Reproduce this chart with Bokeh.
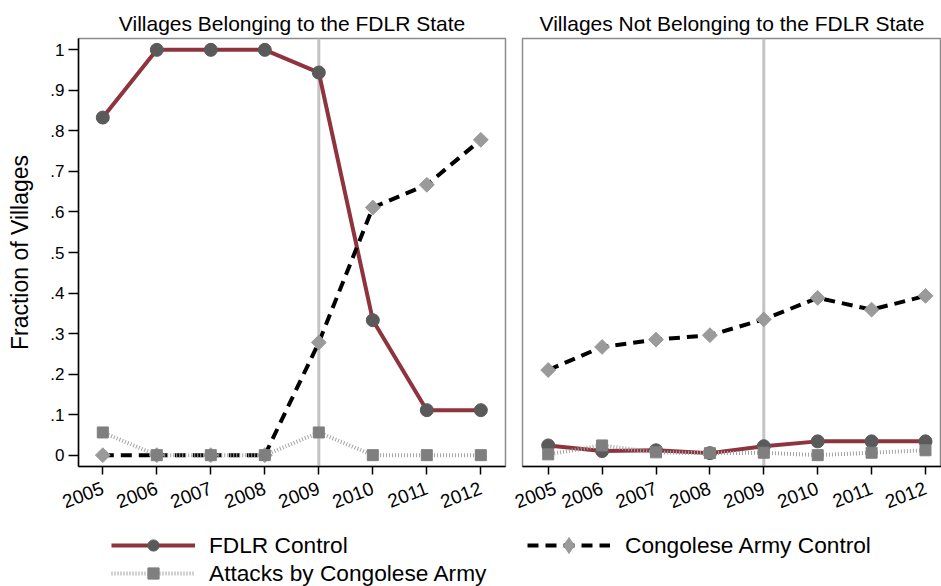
import math
from bokeh.plotting import figure
from bokeh.layouts import column, row
from bokeh.models import Range1d, FixedTicker, Span, Legend, LegendItem
from bokeh.embed import file_html
from bokeh.resources import INLINE

# ---------------- data ----------------
years = [2005, 2006, 2007, 2008, 2009, 2010, 2011, 2012]
year_labels = ["2005", "2006", "2007", "2008", "2009", "2010", "2011", "2012"]
event_year = 2009

fdlr_in = [0.833, 1.0, 1.0, 1.0, 0.944, 0.333, 0.111, 0.111]
army_in = [0.0, 0.0, 0.0, 0.0, 0.278, 0.611, 0.667, 0.778]
attacks_in = [0.056, 0.0, 0.0, 0.0, 0.056, 0.0, 0.0, 0.0]

fdlr_out = [0.024, 0.010, 0.012, 0.005, 0.022, 0.034, 0.034, 0.034]
army_out = [0.210, 0.267, 0.285, 0.296, 0.335, 0.388, 0.359, 0.393]
attacks_out = [0.002, 0.024, 0.007, 0.005, 0.006, 0.0, 0.006, 0.012]

y_ticks = [0.0, 0.1, 0.2, 0.3, 0.4, 0.5, 0.6, 0.7, 0.8, 0.9, 1.0]
y_tick_labels = ["0", ".1", ".2", ".3", ".4", ".5", ".6", ".7", ".8", ".9", "1"]

series_names = ["FDLR Control", "Congolese Army Control", "Attacks by Congolese Army"]
panel_titles = ["Villages Belonging to the FDLR State",
                "Villages Not Belonging to the FDLR State"]
y_label = "Fraction of Villages"

# ---------------- style ----------------
FONT = "Liberation Sans"
RED = "#8f343e"
CIRCLE = "#5a5a5a"
DIAMOND = "#9a9a9a"
SQUARE = "#7f7f7f"
DOT = "#a3a3a3"
ARMY_DASH = "11 7"
DOT_DASH = "1 2"

TOP_H = 522
LEG_H = 64


def add_series(p, fdlr, army, attacks, legend_mode=False):
    rs = []
    rs.append(p.line(years, fdlr, line_color=RED, line_width=4, line_join="round"))
    rs.append(p.scatter(years, fdlr, marker="circle", size=13, fill_color=CIRCLE, line_color=CIRCLE))
    rs.append(p.line(years, army, line_color="black", line_width=4, line_dash=ARMY_DASH))
    if legend_mode:
        rs.append(p.scatter(years, army, marker="diamond", size=16,
                            fill_color=DIAMOND, line_color=DIAMOND))
    else:
        rs.append(p.scatter(years, army, marker="square", angle=math.pi / 4, size=10.5,
                            fill_color=DIAMOND, line_color=DIAMOND))
    rs.append(p.line(years, attacks, line_color=DOT, line_width=4, line_dash=DOT_DASH))
    rs.append(p.scatter(years, attacks, marker="square", size=11, fill_color=SQUARE, line_color=SQUARE))
    return rs


def make_panel(title, fdlr, army, attacks, xr, width, bl, br, show_y):
    p = figure(width=width, height=TOP_H, x_range=Range1d(*xr), y_range=Range1d(-0.028, 1.028),
               output_backend="svg", toolbar_location=None,
               min_border_left=bl, min_border_right=br, min_border_top=38, min_border_bottom=56,
               title=title, background_fill_color="white", border_fill_color="white")
    p.title.text_font = FONT
    p.title.text_font_size = "21px"
    p.title.text_font_style = "normal"
    p.title.text_color = "black"
    p.title.align = "center"
    p.title.standoff = 7
    p.grid.visible = False
    p.outline_line_color = "#8c8c8c"
    p.outline_line_width = 1.5

    p.add_layout(Span(location=event_year, dimension="height", line_color="#c4c4c4",
                      line_width=3, level="underlay"))
    add_series(p, fdlr, army, attacks)

    xa = p.xaxis[0]
    xa.ticker = FixedTicker(ticks=years)
    xa.major_label_overrides = dict(zip(years, year_labels))
    xa.major_label_orientation = 0.36
    xa.major_label_text_font = FONT
    xa.major_label_text_font_size = "19px"
    xa.major_label_text_color = "black"
    xa.major_label_standoff = 13
    xa.major_tick_out = 8
    xa.major_tick_in = 0
    xa.minor_tick_out = 0
    xa.minor_tick_in = 0
    xa.axis_line_color = "black"
    xa.axis_line_width = 1.5
    xa.major_tick_line_width = 1.5

    ya = p.yaxis[0]
    if show_y:
        ya.ticker = FixedTicker(ticks=y_ticks)
        ya.major_label_overrides = dict(zip(y_ticks, y_tick_labels))
        ya.major_label_text_font = FONT
        ya.major_label_text_font_size = "17px"
        ya.major_label_text_color = "black"
        ya.major_label_standoff = 4
        ya.major_tick_out = 10
        ya.major_tick_in = 0
        ya.minor_tick_out = 0
        ya.minor_tick_in = 0
        ya.axis_line_color = "black"
        ya.axis_line_width = 1.5
        ya.major_tick_line_width = 1.5
        ya.axis_label = y_label
        ya.axis_label_text_font = FONT
        ya.axis_label_text_font_size = "23px"
        ya.axis_label_text_font_style = "normal"
        ya.axis_label_text_color = "black"
        ya.axis_label_standoff = 14
    else:
        ya.visible = False
    return p


p1 = make_panel(panel_titles[0], fdlr_in, army_in, attacks_in, (2004.55, 2012.457),
                513, 78, 8, True)
p2 = make_panel(panel_titles[1], fdlr_out, army_out, attacks_out, (2004.523, 2012.297),
                428, 9, 0, False)

# ---------------- legend ----------------
leg = figure(width=941, height=LEG_H, output_backend="svg", toolbar_location=None,
             x_range=Range1d(-100, -99), y_range=Range1d(-100, -99), min_border=0,
             x_axis_location=None, y_axis_location=None)
leg.grid.visible = False
leg.outline_line_color = None
# legend sample renderers (their data lie outside this figure's ranges, so only the legend shows)
lr = add_series(leg, fdlr_in, army_in, attacks_in, legend_mode=True)

common = dict(padding=0, margin=0, border_line_color=None, background_fill_alpha=0,
              label_text_font=FONT, label_text_font_size="22.7px", label_text_color="black")
legend1 = Legend(items=[LegendItem(label=series_names[0], renderers=[lr[0], lr[1]]),
                        LegendItem(label=series_names[2], renderers=[lr[4], lr[5]])],
                 location=(111, -1), glyph_width=84, glyph_height=28, spacing=0,
                 label_standoff=14, **common)
legend2 = Legend(items=[LegendItem(label=series_names[1], renderers=[lr[2], lr[3]])],
                 location=(527, 21), glyph_width=83, glyph_height=40,
                 label_standoff=15, **common)
leg.add_layout(legend1)
leg.add_layout(legend2)

layout = column(row(p1, p2), leg)
open("out.html", "w").write(file_html(layout, INLINE))
